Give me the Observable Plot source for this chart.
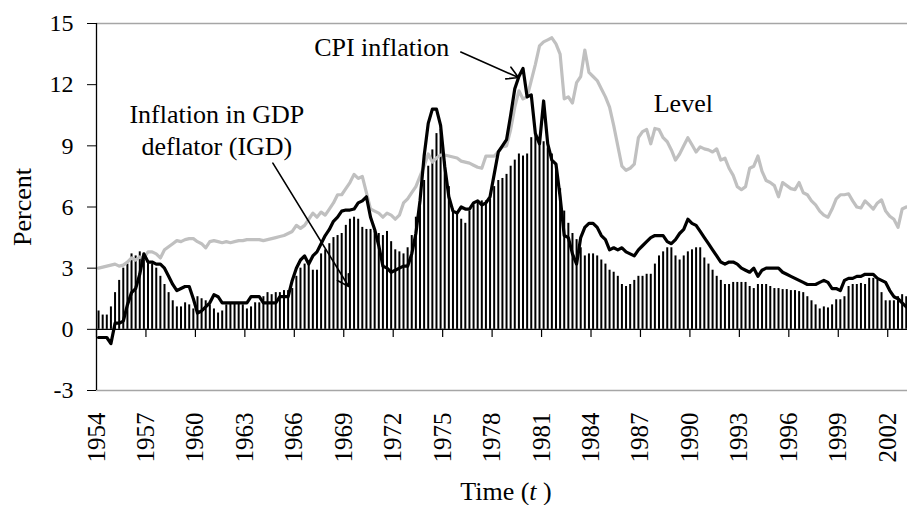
<!DOCTYPE html>
<html>
<head>
<meta charset="utf-8">
<script src="https://cdn.jsdelivr.net/npm/d3@7"></script>
<script src="https://cdn.jsdelivr.net/npm/@observablehq/plot@0.6"></script>
<style>
  html, body { margin: 0; padding: 0; background: #fff; }
</style>
</head>
<body>
<div id="chart"></div>
<script>
// Quarterly data, 1954Q1 – 2003Q1
const startYear = 1954;

// Inflation in GDP deflator (IGD) – bars
const igd = [
  0.9, 0.7, 0.7, 1.1,   // 1954
  1.8, 2.4, 3.0, 3.2,   // 1955
  3.7, 3.6, 3.8, 3.7,   // 1956
  3.3, 3.2, 3.0, 2.6,   // 1957
  2.2, 1.8, 1.4, 1.1,   // 1958
  1.1, 1.3, 1.2, 1.0,   // 1959
  1.6, 1.5, 1.4, 1.2,   // 1960
  1.0, 0.8, 0.9, 1.2,   // 1961
  1.3, 1.3, 1.3, 1.2,   // 1962
  1.0, 1.1, 1.3, 1.3,   // 1963
  1.6, 1.8, 1.7, 1.8,   // 1964
  1.8, 1.9, 1.9, 2.0,   // 1965
  2.6, 3.0, 3.2, 3.3,   // 1966
  2.9, 2.9, 3.7, 3.9,   // 1967
  4.2, 4.5, 4.6, 4.7,   // 1968
  5.1, 5.4, 5.5, 5.4,   // 1969
  5.0, 4.9, 4.9, 4.8,   // 1970
  4.7, 4.6, 4.8, 4.3,   // 1971
  3.9, 3.8, 3.7, 4.0,   // 1972
  4.6, 5.5, 6.3, 7.3,   // 1973
  8.0, 8.8, 9.6, 9.8,   // 1974
  8.2, 7.0, 5.9, 5.7,   // 1975
  5.4, 5.2, 5.8, 6.1,   // 1976
  6.2, 6.3, 6.3, 6.4,   // 1977
  7.0, 7.3, 7.4, 7.6,   // 1978
  8.0, 8.3, 8.6, 8.5,   // 1979
  8.6, 9.4, 9.5, 9.4,   // 1980
  9.2, 8.9, 8.6, 7.9,   // 1981
  6.9, 5.8, 5.2, 4.7,   // 1982
  4.4, 4.0, 3.6, 3.7,   // 1983
  3.7, 3.6, 3.4, 3.2,   // 1984
  2.9, 2.8, 2.6, 2.2,   // 1985
  2.1, 2.2, 2.4, 2.6,   // 1986
  2.6, 2.7, 2.7, 3.2,   // 1987
  3.6, 3.8, 4.0, 4.0,   // 1988
  3.6, 3.4, 3.6, 3.8,   // 1989
  3.9, 4.0, 4.0, 3.5,   // 1990
  3.2, 2.9, 2.6, 2.4,   // 1991
  2.2, 2.2, 2.3, 2.3,   // 1992
  2.3, 2.3, 2.1, 2.0,   // 1993
  2.2, 2.2, 2.2, 2.1,   // 1994
  2.0, 2.0, 1.95, 1.95, // 1995
  1.9, 1.9, 1.85, 1.8,  // 1996
  1.6, 1.4, 1.2, 1.0,   // 1997
  1.1, 1.05, 1.2, 1.45, // 1998
  1.45, 1.6, 2.1, 2.2,  // 1999
  2.2, 2.25, 2.2, 2.5,  // 2000
  2.5, 2.4, 1.8, 1.4,   // 2001
  1.4, 1.4, 1.6, 1.7,   // 2002
  1.6                   // 2003
];

// CPI inflation – black line
const cpi = [
  -0.4, -0.4, -0.4, -0.7, // 1954
  0.3, 0.3, 0.4, 1.2,     // 1955
  1.8, 2.0, 2.7, 3.7,     // 1956
  3.3, 3.3, 3.2, 3.2,     // 1957
  3.0, 2.6, 2.2, 1.9,     // 1958
  2.0, 2.1, 2.1, 1.5,     // 1959
  0.8, 0.9, 1.1, 1.3,     // 1960
  1.7, 1.6, 1.3, 1.3,     // 1961
  1.3, 1.3, 1.3, 1.3,     // 1962
  1.3, 1.6, 1.6, 1.6,     // 1963
  1.3, 1.3, 1.3, 1.3,     // 1964
  1.6, 1.6, 1.6, 2.4,     // 1965
  3.0, 3.4, 3.6, 3.2,     // 1966
  3.6, 3.8, 4.2, 4.6,     // 1967
  4.9, 5.3, 5.5, 5.8,     // 1968
  5.85, 5.85, 5.9, 6.2,   // 1969
  6.3, 6.5, 5.5, 4.9,     // 1970
  4.1, 3.1, 3.0, 2.8,     // 1971
  2.9, 3.0, 3.1, 3.1,     // 1972
  3.7, 4.7, 6.3, 8.5,     // 1973
  10.1, 10.8, 10.8, 10.0, // 1974
  8.0, 6.5, 5.8, 5.7,     // 1975
  6.0, 5.9, 5.9, 6.2,     // 1976
  6.3, 6.1, 6.2, 6.5,     // 1977
  7.6, 8.7, 9.0, 9.3,     // 1978
  10.5, 11.8, 12.4, 12.8, // 1979
  11.4, 11.5, 9.6, 9.1,   // 1980
  11.2, 9.1, 8.3, 8.1,    // 1981
  6.5, 4.6, 4.5, 3.7,     // 1982
  3.2, 4.5, 5.0, 5.2,     // 1983
  5.2, 5.0, 4.6, 4.4,     // 1984
  3.9, 4.0, 3.9, 4.0,     // 1985
  3.8, 3.7, 3.6, 3.9,     // 1986
  4.1, 4.3, 4.5, 4.6,     // 1987
  4.6, 4.6, 4.3, 4.2,     // 1988
  4.4, 4.7, 4.9, 5.4,     // 1989
  5.2, 5.1, 4.8, 4.5,     // 1990
  4.2, 3.9, 3.6, 3.3,     // 1991
  3.2, 3.3, 3.3, 3.2,     // 1992
  3.0, 2.9, 2.8, 3.0,     // 1993
  2.6, 2.9, 3.0, 3.0,     // 1994
  3.0, 3.0, 2.8, 2.7,     // 1995
  2.6, 2.5, 2.4, 2.3,     // 1996
  2.2, 2.2, 2.2, 2.3,     // 1997
  2.4, 2.3, 2.0, 2.0,     // 1998
  1.9, 2.4, 2.5, 2.5,     // 1999
  2.6, 2.6, 2.7, 2.7,     // 2000
  2.7, 2.5, 2.4, 2.3,     // 2001
  1.9, 1.6, 1.5, 1.3,     // 2002
  1.1                     // 2003
];

// Level – grey line
const level = [
  3.0, 3.05, 3.1, 3.15,   // 1954
  3.2, 3.1, 3.15, 3.3,    // 1955
  3.5, 3.4, 3.55, 3.5,    // 1956
  3.8, 3.8, 3.7, 3.5,     // 1957
  3.9, 4.05, 4.2, 4.35,   // 1958
  4.3, 4.4, 4.45, 4.45,   // 1959
  4.3, 4.2, 4.0, 4.3,     // 1960
  4.35, 4.3, 4.25, 4.3,   // 1961
  4.25, 4.3, 4.35, 4.35,  // 1962
  4.4, 4.4, 4.4, 4.4,     // 1963
  4.35, 4.4, 4.45, 4.5,   // 1964
  4.55, 4.6, 4.7, 4.8,    // 1965
  5.1, 4.95, 5.1, 5.4,    // 1966
  5.7, 5.5, 5.75, 5.6,    // 1967
  5.9, 6.2, 6.6, 6.6,     // 1968
  6.9, 7.2, 7.6, 7.4,     // 1969
  7.5, 6.7, 5.9, 5.8,     // 1970
  5.7, 5.5, 5.7, 5.6,     // 1971
  5.4, 5.6, 6.2, 6.4,     // 1972
  6.7, 7.0, 7.5, 8.0,     // 1973
  8.6, 8.2, 8.4, 8.55,    // 1974
  8.55, 8.5, 8.45, 8.4,   // 1975
  8.25, 8.2, 8.15, 8.05,  // 1976
  7.95, 7.9, 8.5, 8.5,    // 1977
  8.5, 8.7, 8.95, 9.0,    // 1978
  9.8, 10.9, 11.7, 11.3,  // 1979
  11.4, 12.2, 13.0, 13.9, // 1980
  14.1, 14.2, 14.3, 14.0, // 1981
  13.5, 11.3, 11.4, 11.1, // 1982
  12.1, 12.4, 13.7, 12.6, // 1983
  12.4, 12.2, 11.8, 11.4, // 1984
  10.9, 10.0, 9.0, 8.0,   // 1985
  7.8, 7.9, 8.1, 9.4,     // 1986
  9.7, 9.8, 9.1, 9.85,    // 1987
  9.8, 9.4, 9.2, 8.8,     // 1988
  8.3, 8.6, 9.0, 9.4,     // 1989
  9.05, 8.7, 8.95, 8.85,  // 1990
  8.8, 8.7, 8.85, 8.3,    // 1991
  8.4, 7.9, 7.55, 7.0,    // 1992
  6.85, 7.0, 7.9, 8.0,    // 1993
  8.5, 7.75, 7.3, 7.2,    // 1994
  7.05, 6.5, 7.2, 7.05,   // 1995
  6.9, 6.85, 7.2, 6.7,    // 1996
  6.6, 6.3, 6.1, 5.8,     // 1997
  5.6, 5.5, 5.9, 6.4,     // 1998
  6.6, 6.6, 6.65, 6.3,    // 1999
  6.0, 5.95, 6.3, 6.1,    // 2000
  5.9, 6.2, 6.35, 5.8,    // 2001
  5.55, 5.4, 5.0, 5.9,    // 2002
  6.0                     // 2003
];

const yTicks = [-3, 0, 3, 6, 9, 12, 15];
const xTicks = [1954, 1957, 1960, 1963, 1966, 1969, 1972, 1975, 1978, 1981, 1984, 1987, 1990, 1993, 1996, 1999, 2002];

const annotations = [
  {t: 1971.3, v: 13.8, label: "CPI inflation"},
  {t: 1961.3, v: 10.55, label: "Inflation in GDP"},
  {t: 1961.3, v: 8.98, label: "deflator (IGD)"},
  {t: 1989.6, v: 11.08, label: "Level"}
];
const arrows = [
  {t1: 1976.1, v1: 13.6, t2: 1979.6, v2: 12.35},
  {t1: 1964.7, v1: 8.15, t2: 1969.3, v2: 2.1}
];

const data = igd.map((v, i) => ({
  t: startYear + i / 4 + 0.125,
  igd: v,
  cpi: cpi[i],
  level: level[i]
}));

const serif = "'Liberation Serif', 'Times New Roman', Times, serif";

const chart = Plot.plot({
  width: 907,
  height: 505,
  marginLeft: 96,
  marginRight: 0,
  marginTop: 23,
  marginBottom: 115,
  style: {fontFamily: serif, background: "white", color: "black"},
  x: {domain: [1954, 2003.2]},
  y: {domain: [-3, 15]},
  marks: [
    Plot.ruleY([15, -3], {stroke: "#a6a6a6", strokeWidth: 1.6}),
    Plot.ruleX(data, {x: "t", y1: 0, y2: "igd", stroke: "black", strokeWidth: 2}),
    Plot.line(data, {x: "t", y: "level", stroke: "#c0c0c0", strokeWidth: 3.2, strokeLinejoin: "round"}),
    Plot.line(data, {x: "t", y: "cpi", stroke: "black", strokeWidth: 3.2, strokeLinejoin: "round"}),
    Plot.ruleY([0], {stroke: "black", strokeWidth: 1.3}),
    Plot.ruleX(xTicks, {x: d => d, y1: 0, y2: -0.4, stroke: "black", strokeWidth: 1.2}),
    Plot.ruleX([1954], {stroke: "black", strokeWidth: 1.3}),
    Plot.axisY({ticks: yTicks, tickSize: 9, tickPadding: 14, fontSize: 24, label: null, tickFormat: d => String(d)}),
    Plot.axisX({ticks: xTicks, tickSize: 0, tickPadding: 22, tickRotate: -90, fontSize: 25, label: null, tickFormat: d => String(d)}),
    Plot.text(["Percent"], {frameAnchor: "left", textAnchor: "middle", lineAnchor: "middle", dx: -74, rotate: -90, fontSize: 26, fill: "black"}),
    Plot.text(["Time (t )"], {frameAnchor: "bottom", textAnchor: "middle", lineAnchor: "middle", dy: 101, dx: 4, fontSize: 26, fill: "black"}),
    Plot.arrow(arrows, {x1: "t1", y1: "v1", x2: "t2", y2: "v2", stroke: "black", strokeWidth: 1.6, headLength: 12}),
    Plot.text(annotations, {x: "t", y: "v", text: "label", fontSize: 26, fill: "black"})
  ]
});

// italic "t" in the x-axis title
chart.querySelectorAll("text").forEach(el => {
  if (el.textContent === "Time (t )") {
    const ns = "http://www.w3.org/2000/svg";
    while (el.firstChild) el.removeChild(el.firstChild);
    el.appendChild(document.createTextNode("Time ("));
    const it = document.createElementNS(ns, "tspan");
    it.setAttribute("font-style", "italic");
    it.textContent = "t";
    el.appendChild(it);
    el.appendChild(document.createTextNode(" )"));
  }
});

document.getElementById("chart").appendChild(chart);
</script>
</body>
</html>
